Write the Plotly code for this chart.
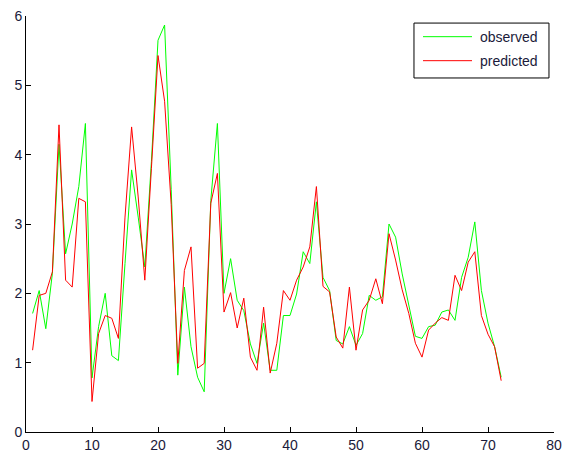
import plotly.graph_objects as go

x_vals = list(range(1, 73))

observed = [1.71, 2.04, 1.49, 2.29, 4.15, 2.57, 3.0, 3.54, 4.45, 0.78,
            1.52, 2.0, 1.1, 1.03, 2.43, 3.78, 3.1, 2.38, 3.9, 5.65,
            5.87, 3.5, 0.82, 2.09, 1.23, 0.79, 0.58, 3.34, 4.45, 2.0,
            2.5, 1.9, 1.75, 1.27, 0.99, 1.57, 0.89, 0.89, 1.68, 1.68,
            1.99, 2.6, 2.43, 3.32, 2.23, 2.04, 1.32, 1.27, 1.52, 1.25,
            1.42, 1.97, 1.9, 1.95, 3.0, 2.81, 2.28, 1.85, 1.38, 1.35,
            1.52, 1.54, 1.73, 1.76, 1.61, 2.23, 2.52, 3.03, 2.04, 1.57,
            1.23, 0.79]

predicted = [1.18, 1.97, 2.0, 2.31, 4.43, 2.19, 2.09, 3.37, 3.32, 0.44,
             1.42, 1.68, 1.64, 1.35, 3.1, 4.4, 3.39, 2.19, 3.8, 5.43,
             4.77, 3.28, 0.99, 2.33, 2.67, 0.92, 0.99, 3.3, 3.73, 1.73,
             2.01, 1.5, 1.93, 1.08, 0.89, 1.8, 0.85, 1.28, 2.04, 1.9,
             2.19, 2.38, 2.67, 3.54, 2.1, 2.02, 1.37, 1.21, 2.09, 1.18,
             1.76, 1.9, 2.21, 1.85, 2.86, 2.48, 2.05, 1.71, 1.28, 1.08,
             1.47, 1.57, 1.65, 1.61, 2.26, 2.04, 2.45, 2.6, 1.68, 1.41,
             1.23, 0.74]

series_names = ["observed", "predicted"]
series_colors = ["#00FF00", "#FF0000"]

x_ticks = [0, 10, 20, 30, 40, 50, 60, 70, 80]
y_ticks = [0, 1, 2, 3, 4, 5, 6]

FONT = "Liberation Sans, Arial"
TEXT_COLOR = "#1a1a3a"

fig = go.Figure()
for name, ys, col in zip(series_names, [observed, predicted], series_colors):
    fig.add_trace(go.Scatter(x=x_vals, y=ys, mode="lines", name=name,
                             line=dict(color=col, width=1), showlegend=False))

axis_common = dict(showgrid=False, zeroline=False, showline=True,
                   linecolor="black", linewidth=1, ticks="inside",
                   ticklen=5, tickcolor="black", mirror=False,
                   automargin=False,
                   tickfont=dict(family=FONT, size=14, color=TEXT_COLOR))

# Manual legend (MATLAB style: long line samples)
shapes = [dict(type="rect", xref="paper", yref="paper",
               x0=0.7348, x1=0.9905, y0=0.851, y1=0.983,
               line=dict(color="black", width=1), fillcolor="white",
               layer="above")]
annotations = []
legend_y = [0.9503, 0.8926]
for name, col, ly in zip(series_names, series_colors, legend_y):
    shapes.append(dict(type="line", xref="paper", yref="paper",
                       x0=0.7519, x1=0.8447, y0=ly, y1=ly,
                       line=dict(color=col, width=1), layer="above"))
    annotations.append(dict(text=name, xref="paper", yref="paper",
                            x=0.856, y=ly, xanchor="left", yanchor="middle",
                            showarrow=False,
                            font=dict(family=FONT, size=14, color=TEXT_COLOR)))

fig.update_layout(
    width=565, height=461,
    margin=dict(l=26, r=11, t=16, b=29),
    paper_bgcolor="white", plot_bgcolor="white",
    showlegend=False,
    shapes=shapes, annotations=annotations,
    xaxis=dict(range=[0, 80], tickvals=x_ticks, **axis_common),
    yaxis=dict(range=[0, 6], tickvals=y_ticks, **axis_common),
)

fig.write_html("out.html")
